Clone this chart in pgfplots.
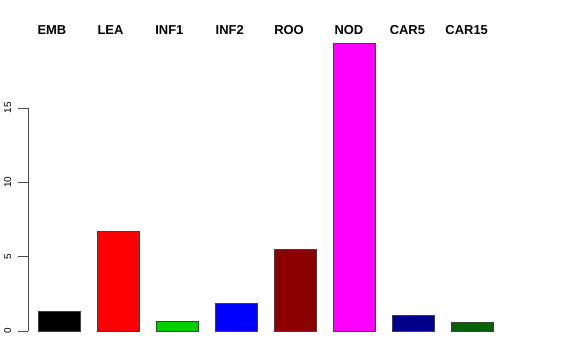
\documentclass[border=0pt]{standalone}
\usepackage{pgfplots}
\pgfplotsset{compat=1.18}
\usepackage{fontspec}
\setmainfont{Liberation Sans}
\definecolor{cEMB}{HTML}{000000}
\definecolor{cLEA}{HTML}{FF0000}
\definecolor{cINF1}{HTML}{00CD00}
\definecolor{cINF2}{HTML}{0000FF}
\definecolor{cROO}{HTML}{8B0000}
\definecolor{cNOD}{HTML}{FF00FF}
\definecolor{cCAR5}{HTML}{00008B}
\definecolor{cCAR15}{HTML}{006400}
\begin{document}
\begin{tikzpicture}
\useasboundingbox[fill=white] (0,0) rectangle (576bp,360bp);
\begin{axis}[
  at={(28bp,29bp)}, anchor=south west,
  scale only axis,
  width=498.1bp, height=223.05bp,
  xmin=0.0695, xmax=10.2,
  ymin=0, ymax=15,
  clip=false,
  axis x line=none,
  axis y line=left,
  y axis line style={-, black!70, line width=0.75bp},
  ytick={0,5,10,15},
  ytick pos=left,
  tick align=outside,
  major tick length=7bp,
  ytick style={black!70, line width=0.75bp},
  yticklabel style={rotate=90, anchor=south, inner sep=0pt, yshift=9.5bp, font=\fontsize{10}{10}\selectfont},
  /pgf/number format/assume math mode=true,
  every axis plot/.append style={ybar, bar width=0.854, bar shift=0pt, draw=black!75, line width=0.75bp},
]
\addplot[fill=cEMB] coordinates {(0.7,1.32)};
\addplot[fill=cLEA] coordinates {(1.9,6.68)};
\addplot[fill=cINF1] coordinates {(3.1,0.64)};
\addplot[fill=cINF2] coordinates {(4.3,1.84)};
\addplot[fill=cROO] coordinates {(5.5,5.51)};
\addplot[fill=cNOD] coordinates {(6.7,19.35)};
\addplot[fill=cCAR5] coordinates {(7.9,1.03)};
\addplot[fill=cCAR15] coordinates {(9.1,0.60)};
\draw[black!70, line width=0.75bp] (axis cs:0.0695,0) -- ++(-7bp,0);
\draw[black!70, line width=0.75bp] (axis cs:0.0695,5) -- ++(-7bp,0);
\draw[black!70, line width=0.75bp] (axis cs:0.0695,10) -- ++(-7bp,0);
\draw[black!70, line width=0.75bp] (axis cs:0.0695,15) -- ++(-7bp,0);
\begin{scope}[every node/.style={anchor=base, inner sep=0pt, font=\fontsize{13}{13}\selectfont\bfseries}]
\node at (axis cs:0.556,19.95) {EMB};
\node at (axis cs:1.747,19.95) {LEA};
\node at (axis cs:2.945,19.95) {INF1};
\node at (axis cs:4.172,19.95) {INF2};
\node at (axis cs:5.378,19.95) {ROO};
\node at (axis cs:6.596,19.95) {NOD};
\node at (axis cs:7.786,19.95) {CAR5};
\node at (axis cs:8.992,19.95) {CAR15};
\end{scope}
\end{axis}
\end{tikzpicture}
\end{document}
